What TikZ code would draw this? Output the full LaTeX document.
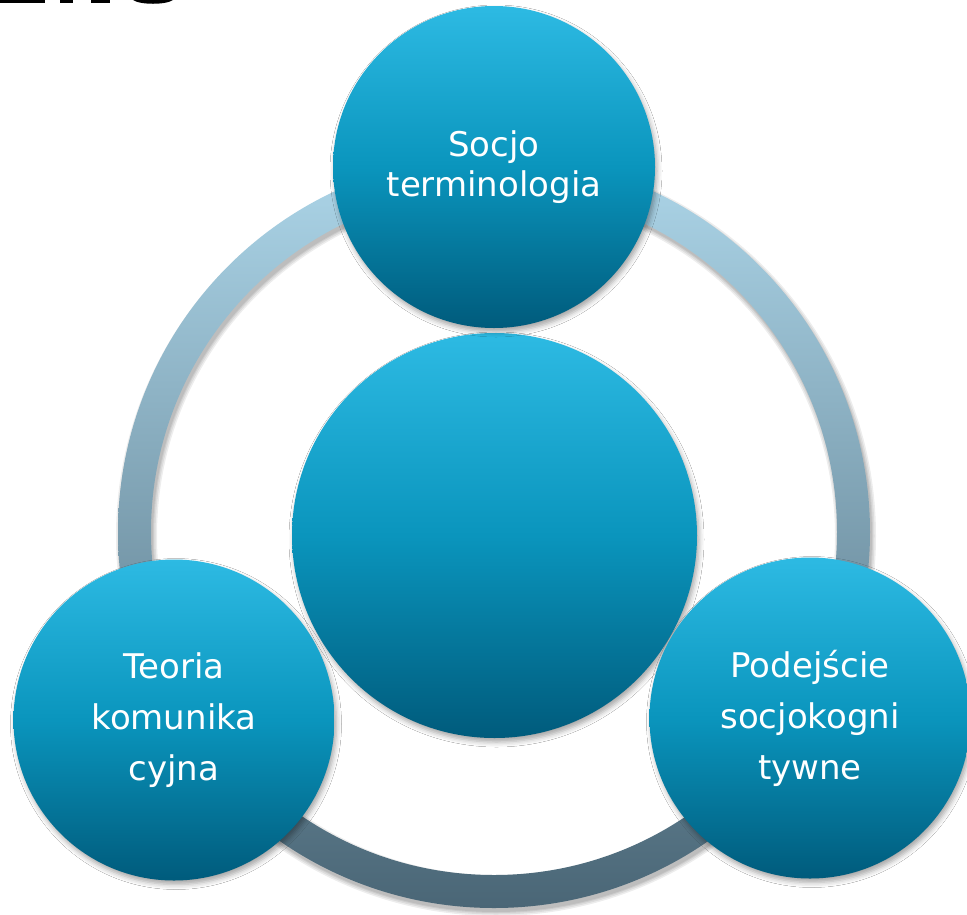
\documentclass[tikz,border=0pt]{standalone}
\usepackage{fontspec}
\setmainfont{DejaVu Sans}
\usetikzlibrary{shadows.blur}
\definecolor{circTop}{HTML}{2DBAE3}
\definecolor{circMid}{HTML}{0A95BD}
\definecolor{circBot}{HTML}{005B7C}
\definecolor{ringTop}{HTML}{ADD6E9}
\definecolor{ringBot}{HTML}{4A6676}
\tikzset{
  bubble/.style={circle, inner sep=0pt, minimum size=#1, text=white, align=center,
    top color=circTop, bottom color=circBot, middle color=circMid,
    blur shadow={shadow xshift=2pt, shadow yshift=-4pt, shadow blur radius=5pt, shadow opacity=35}},
  bubbletext/.style={font=\fontsize{34}{51}\selectfont},
  toptext/.style={font=\fontsize{34}{40}\selectfont},
  glyph/.style={fill=black, draw=none},
  ringshadow/.style={draw=black, draw opacity=0.07, fill=none}
}
\begin{document}
\begin{tikzpicture}[x=1pt, y=-1pt]
\useasboundingbox (0,0) rectangle (967,914);
\fill[white] (0,0) rectangle (967,914);
% fragments of the cut-off title
\fill[glyph] (0,0) rectangle (45,3);
\fill[glyph] (60,0) rectangle (73,3);
\fill[glyph] (91,0) rectangle (110,3);
\fill[glyph] (133,0) .. controls (140,5) and (166,5) .. (173,0) -- cycle;
% ring shadow (soft)
\coordinate (ringc) at (496,536);
\foreach \w in {41,38,35,33}{
  \draw[ringshadow, line width=\w pt] (ringc) circle (359.5);
}
% ring
\path[even odd rule, top color=ringTop, bottom color=ringBot]
  (494,532) circle (376) (494,532) circle (343);
% circles
\node[bubble=405pt] (mid) at (494.5,535.5) {};
\node[bubble=322pt, toptext] (socjo) at (494,167) {Socjo\\terminologia};
\node[bubble=321pt, bubbletext] (teoria) at (174,720) {Teoria\\komunika\\cyjna};
\node[bubble=321pt, bubbletext] (podejscie) at (810,718) {Podejście\\socjokogni\\tywne};
\end{tikzpicture}
\end{document}
